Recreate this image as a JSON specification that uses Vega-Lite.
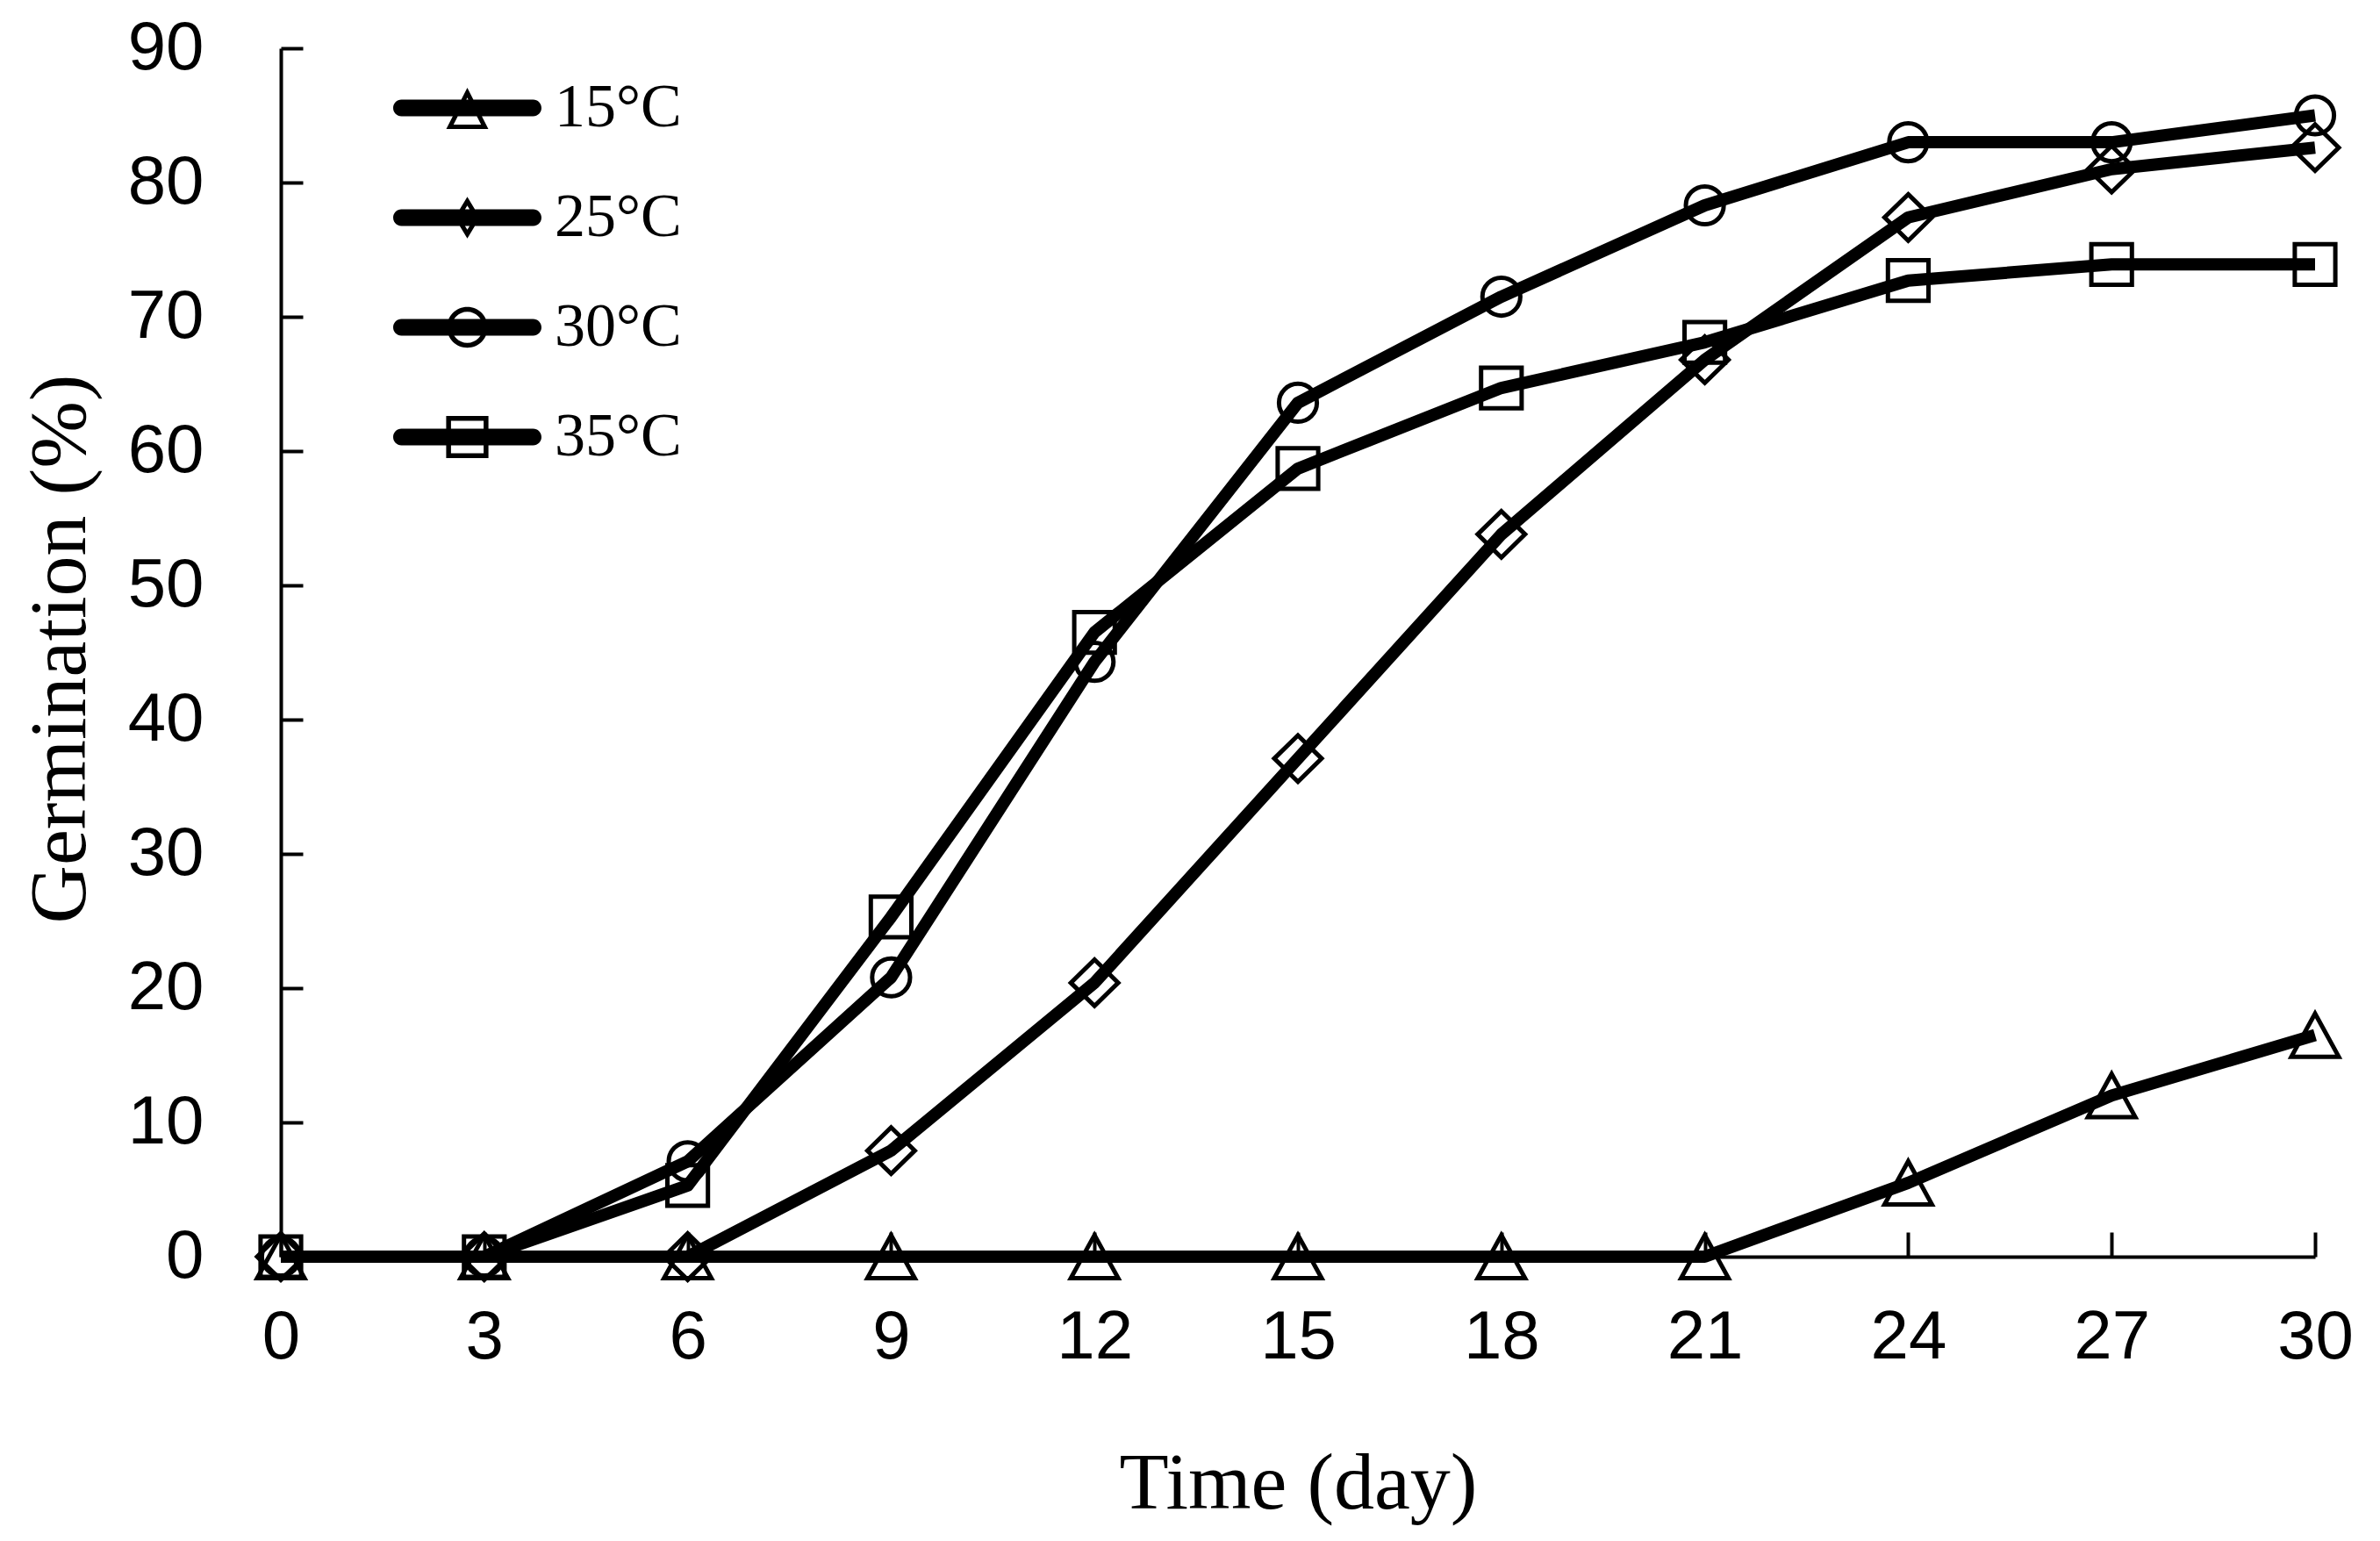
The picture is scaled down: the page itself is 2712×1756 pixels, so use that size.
{
  "$schema": "https://vega.github.io/schema/vega-lite/v6.json",
  "width": 2318,
  "height": 1377,
  "autosize": "none",
  "padding": {"left": 320, "top": 55, "right": 74, "bottom": 324},
  "background": "white",
  "config": {"view": {"stroke": null}, "axis": {"grid": false}, "font": "Liberation Sans"},
  "data": {
    "values": [
      {"series": "15°C", "day": 0, "germ": 0}, {"series": "15°C", "day": 3, "germ": 0}, {"series": "15°C", "day": 6, "germ": 0},
      {"series": "15°C", "day": 9, "germ": 0}, {"series": "15°C", "day": 12, "germ": 0}, {"series": "15°C", "day": 15, "germ": 0},
      {"series": "15°C", "day": 18, "germ": 0}, {"series": "15°C", "day": 21, "germ": 0}, {"series": "15°C", "day": 24, "germ": 5.5},
      {"series": "15°C", "day": 27, "germ": 12.0}, {"series": "15°C", "day": 30, "germ": 16.5},
      {"series": "25°C", "day": 0, "germ": 0}, {"series": "25°C", "day": 3, "germ": 0}, {"series": "25°C", "day": 6, "germ": 0},
      {"series": "25°C", "day": 9, "germ": 7.9}, {"series": "25°C", "day": 12, "germ": 20.4}, {"series": "25°C", "day": 15, "germ": 37.1},
      {"series": "25°C", "day": 18, "germ": 53.8}, {"series": "25°C", "day": 21, "germ": 66.8}, {"series": "25°C", "day": 24, "germ": 77.4},
      {"series": "25°C", "day": 27, "germ": 81.0}, {"series": "25°C", "day": 30, "germ": 82.6},
      {"series": "30°C", "day": 0, "germ": 0}, {"series": "30°C", "day": 3, "germ": 0}, {"series": "30°C", "day": 6, "germ": 7.1},
      {"series": "30°C", "day": 9, "germ": 20.8}, {"series": "30°C", "day": 12, "germ": 44.3}, {"series": "30°C", "day": 15, "germ": 63.6},
      {"series": "30°C", "day": 18, "germ": 71.5}, {"series": "30°C", "day": 21, "germ": 78.3}, {"series": "30°C", "day": 24, "germ": 83.0},
      {"series": "30°C", "day": 27, "germ": 83.0}, {"series": "30°C", "day": 30, "germ": 85.0},
      {"series": "35°C", "day": 0, "germ": 0}, {"series": "35°C", "day": 3, "germ": 0}, {"series": "35°C", "day": 6, "germ": 5.3},
      {"series": "35°C", "day": 9, "germ": 25.3}, {"series": "35°C", "day": 12, "germ": 46.5}, {"series": "35°C", "day": 15, "germ": 58.7},
      {"series": "35°C", "day": 18, "germ": 64.7}, {"series": "35°C", "day": 21, "germ": 68.1}, {"series": "35°C", "day": 24, "germ": 72.7},
      {"series": "35°C", "day": 27, "germ": 73.9}, {"series": "35°C", "day": 30, "germ": 73.9}
    ]
  },
  "encoding": {
    "x": {
      "field": "day", "type": "quantitative",
      "scale": {"domain": [0, 30], "nice": false, "zero": false},
      "axis": {
        "values": [0, 3, 6, 9, 12, 15, 18, 21, 24, 27, 30],
        "title": "Time (day)", "grid": false,
        "tickSize": -28, "tickWidth": 4, "tickColor": "black",
        "domainColor": "black", "domainWidth": 4,
        "labelFont": "Liberation Sans", "labelFontSize": 78, "labelColor": "black",
        "labelPadding": 143, "labelBaseline": "alphabetic", "labelFlush": false, "labelOverlap": false,
        "titleFont": "Liberation Serif", "titleFontSize": 92, "titleFontWeight": "normal", "titleColor": "black",
        "titleX": 1159, "titleY": 286, "titleBaseline": "alphabetic", "titleAlign": "center", "titleAnchor": null
      }
    },
    "y": {
      "field": "germ", "type": "quantitative",
      "scale": {"domain": [0, 90], "nice": false},
      "axis": {
        "values": [0, 10, 20, 30, 40, 50, 60, 70, 80, 90],
        "title": "Germination (%)", "grid": false,
        "tickSize": -25, "tickWidth": 4, "tickColor": "black",
        "domainColor": "black", "domainWidth": 4,
        "labelFont": "Liberation Sans", "labelFontSize": 78, "labelColor": "black",
        "labelPadding": 113, "labelBaseline": "middle", "labelFlush": false, "labelOverlap": false,
        "titleFont": "Liberation Serif", "titleFontSize": 92, "titleFontWeight": "normal", "titleColor": "black",
        "titleX": -224, "titleY": 684, "titleAngle": -90, "titleBaseline": "alphabetic", "titleAlign": "center"
      }
    }
  },
  "layer": [
    {
      "mark": {"type": "line", "interpolate": "linear", "strokeWidth": 14, "strokeJoin": "round", "color": "black", "clip": false},
      "encoding": {"detail": {"field": "series", "type": "nominal"}}
    },
    {
      "mark": {"type": "point", "filled": false, "color": "black", "stroke": "black", "strokeWidth": 5, "size": 3600, "opacity": 1, "clip": false},
      "encoding": {
        "shape": {
          "field": "series", "type": "nominal",
          "scale": {
            "domain": ["15°C", "25°C", "30°C", "35°C"],
            "range": [
              "M0,-0.82L0.9,0.82L-0.9,0.82Z",
              "M0,-0.88L0.9,0L0,0.88L-0.9,0Z",
              "M0,-0.72A0.72,0.72 0 1 1 0,0.72A0.72,0.72 0 1 1 0,-0.72Z",
              "M-0.77,-0.77L0.77,-0.77L0.77,0.77L-0.77,0.77Z"
            ]
          },
          "legend": null
        }
      }
    },
    {
      "mark": {"type": "point", "filled": true, "color": "black", "opacity": 0, "size": 28561, "strokeWidth": 0},
      "encoding": {
        "shape": {
          "field": "series", "type": "nominal",
          "scale": {
            "domain": ["15°C", "25°C", "30°C", "35°C"],
            "range": [
              "M-0.888,-0.112L0.888,-0.112A0.112,0.112 0 0 1 0.888,0.112L-0.888,0.112A0.112,0.112 0 0 1 -0.888,-0.112ZM0,-0.272L0.284,0.284L-0.284,0.284ZM0,-0.14L-0.186,0.224L0.186,0.224Z",
              "M-0.888,-0.112L0.888,-0.112A0.112,0.112 0 0 1 0.888,0.112L-0.888,0.112A0.112,0.112 0 0 1 -0.888,-0.112ZM0,-0.28L0.17,0L0,0.28L-0.17,0ZM0,-0.164L-0.1,0L0,0.164L0.1,0Z",
              "M-0.888,-0.112L0.888,-0.112A0.112,0.112 0 0 1 0.888,0.112L-0.888,0.112A0.112,0.112 0 0 1 -0.888,-0.112ZM0,-0.275A0.275,0.275 0 1 1 0,0.275A0.275,0.275 0 1 1 0,-0.275ZM0,-0.21A0.21,0.21 0 1 0 0,0.21A0.21,0.21 0 1 0 0,-0.21Z",
              "M-0.888,-0.112L0.888,-0.112A0.112,0.112 0 0 1 0.888,0.112L-0.888,0.112A0.112,0.112 0 0 1 -0.888,-0.112ZM-0.285,-0.285L0.285,-0.285L0.285,0.285L-0.285,0.285ZM-0.22,-0.22L-0.22,0.22L0.22,0.22L0.22,-0.22Z"
            ]
          },
          "legend": {
            "orient": "none", "legendX": 128, "legendY": 28,
            "title": null, "padding": 0,
            "clipHeight": 80, "rowPadding": 45,
            "symbolSize": 28561, "symbolOpacity": 1, "symbolStrokeWidth": 0,
            "symbolFillColor": "black", "symbolOffset": 0,
            "labelFont": "Liberation Serif", "labelFontSize": 70, "labelColor": "black",
            "labelOffset": 15, "labelLimit": 0
          }
        }
      }
    }
  ],
  "resolve": {"scale": {"shape": "independent"}}
}
